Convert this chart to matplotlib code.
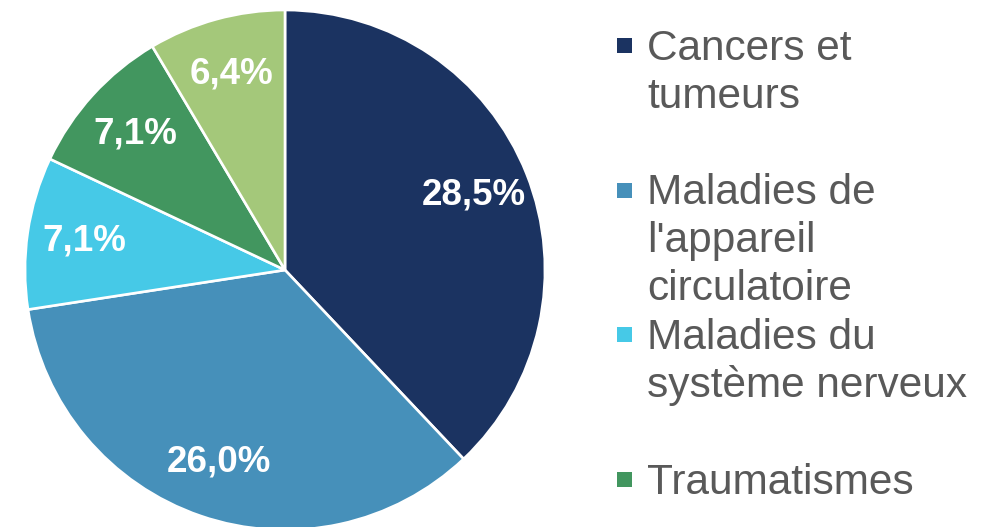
import matplotlib.pyplot as plt

plt.rcParams['font.family'] = ['Liberation Sans', 'DejaVu Sans']

# causes of death (share of total, %), drawn clockwise from 12 o'clock
values = [28.5, 26.0, 7.1, 7.1, 6.4]
pct_labels = ['28,5%', '26,0%', '7,1%', '7,1%', '6,4%']
colors = ['#1b3361', '#4690ba', '#46c9e7', '#42965f', '#a4c87a']

# legend entries visible in the frame (Excel-style wrapped text)
legend_labels = ['Cancers et\ntumeurs',
                 "Maladies de\nl'appareil\ncirculatoire",
                 'Maladies du\nsystème nerveux',
                 'Traumatismes']

W, H = 994, 527
fig = plt.figure(figsize=(W / 100, H / 100), dpi=100)
ax = fig.add_axes([0, 0, 1, 1])

wedges, texts, autotexts = ax.pie(
    values, colors=colors, startangle=90, counterclock=False,
    radius=260, center=(285, H - 270),
    autopct=lambda p: '', pctdistance=0.78,
    wedgeprops=dict(edgecolor='white', linewidth=1.9),
    frame=True)
for t, lab in zip(autotexts, pct_labels):
    t.set_text(lab)
    t.set_color('white')
    t.set_fontsize(26.5)
    t.set_fontweight('bold')
ax.set_xlim(0, W)
ax.set_ylim(0, H)
ax.set_aspect('auto')
ax.axis('off')

# manual legend: marker aligned with the first line of each entry
entry_top = 60      # baseline of first line, px from top
entry_step = 144.5
line_step = 47.7
for i, (lab, col) in enumerate(zip(legend_labels, colors)):
    base = entry_top + i * entry_step
    ax.add_patch(plt.Rectangle((617, H - base + 7), 15, 15,
                               facecolor=col, edgecolor='none'))
    for j, line in enumerate(lab.split('\n')):
        ax.text(647, H - (base + j * line_step), line, fontsize=30.5,
                color='#595959', ha='left', va='baseline')

fig.savefig('out.png', dpi=100)
